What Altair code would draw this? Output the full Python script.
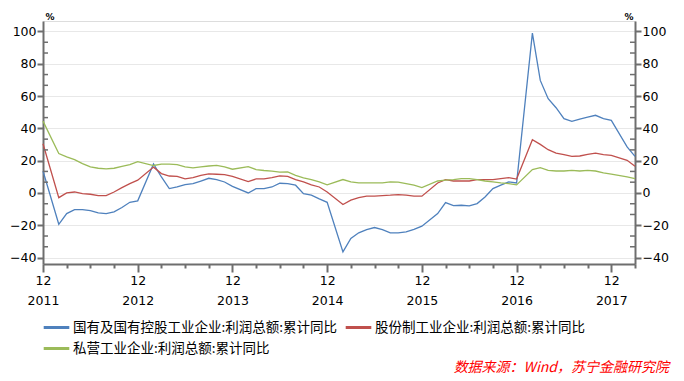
import altair as alt
import pandas as pd

months = [
    "2011-12",
    "2012-02", "2012-03", "2012-04", "2012-05", "2012-06", "2012-07", "2012-08", "2012-09", "2012-10", "2012-11", "2012-12",
    "2013-02", "2013-03", "2013-04", "2013-05", "2013-06", "2013-07", "2013-08", "2013-09", "2013-10", "2013-11", "2013-12",
    "2014-02", "2014-03", "2014-04", "2014-05", "2014-06", "2014-07", "2014-08", "2014-09", "2014-10", "2014-11", "2014-12",
    "2015-02", "2015-03", "2015-04", "2015-05", "2015-06", "2015-07", "2015-08", "2015-09", "2015-10", "2015-11", "2015-12",
    "2016-02", "2016-03", "2016-04", "2016-05", "2016-06", "2016-07", "2016-08", "2016-09", "2016-10", "2016-11", "2016-12",
    "2017-02", "2017-03", "2017-04", "2017-05", "2017-06", "2017-07", "2017-08", "2017-09", "2017-10", "2017-11", "2017-12",
    "2018-02", "2018-03",
]

soe = [
    13.6,
    -19.4, -12.8, -10.3, -10.3, -10.9, -12.4, -12.8, -11.7, -9.0, -5.8, -4.9,
    18.0, 9.9, 2.7, 3.7, 5.2, 5.8, 7.4, 9.1, 8.3, 6.8, 4.1,
    0.0, 2.7, 2.7, 3.7, 6.0, 5.8, 4.8, -0.4, -1.4, -3.7, -5.8,
    -36.5, -28.2, -24.7, -22.7, -21.4, -22.7, -24.7, -24.7, -24.1, -22.6, -20.6,
    -12.8, -6.0, -7.8, -7.6, -8.0, -6.6, -2.5, 2.7, 4.8, 6.8, 6.2,
    99.0, 69.7, 58.4, 52.8, 46.0, 44.3, 45.8, 47.0, 48.1, 46.0, 45.0,
    28.5, 22.7,
]

joint_stock = [
    30.5,
    -2.9, 0.0, 0.6, -0.4, -0.8, -1.6, -1.6, 0.6, 3.3, 5.8, 7.9,
    16.0, 12.0, 10.5, 10.3, 8.7, 9.5, 10.9, 11.8, 11.6, 11.3, 10.3,
    7.0, 8.7, 8.7, 9.5, 10.6, 10.3, 8.3, 6.8, 5.0, 3.7, 0.6,
    -7.2, -4.5, -2.9, -2.0, -1.9, -1.6, -1.4, -1.0, -1.4, -2.0, -2.0,
    6.2, 8.3, 7.4, 7.4, 7.4, 8.3, 8.3, 8.3, 8.9, 9.5, 8.6,
    33.0, 30.1, 26.8, 24.7, 23.7, 22.7, 22.9, 23.9, 24.7, 23.7, 23.3,
    20.2, 16.5,
]

private = [
    44.5,
    24.4, 22.3, 20.6, 18.2, 16.1, 15.3, 14.9, 15.3, 16.5, 17.5, 19.4,
    17.0, 17.8, 17.9, 17.6, 16.1, 15.5, 16.1, 16.7, 17.1, 16.1, 14.7,
    16.3, 14.5, 13.9, 13.5, 12.9, 13.0, 10.9, 9.3, 8.3, 6.8, 5.0,
    8.3, 6.8, 6.2, 6.2, 6.2, 6.2, 6.8, 6.7, 5.8, 4.8, 3.3,
    7.4, 7.9, 8.3, 8.9, 8.9, 8.3, 7.4, 6.8, 6.2, 5.8, 5.0,
    14.5, 15.7, 14.0, 13.6, 13.6, 14.0, 13.6, 14.0, 13.6, 12.4, 11.6,
    9.9, 8.9,
]

series_names = [
    "国有及国有控股工业企业:利润总额:累计同比",
    "股份制工业企业:利润总额:累计同比",
    "私营工业企业:利润总额:累计同比",
]
series_colors = ["#4f81bd", "#c0504d", "#9bbb59"]

y_major = [-40, -20, 0, 20, 40, 60, 80, 100]
y_minor = [-33.33, -26.67, -13.33, -6.67, 6.67, 13.33, 26.67, 33.33, 46.67, 53.33,
           66.67, 73.33, 86.67, 93.33]
x_ticks = list(range(0, 76, 3))
source_text = "数据来源：Wind，苏宁金融研究院"

# build long table
rows = []
for name, vals in zip(series_names, [soe, joint_stock, private]):
    for mth, v in zip(months, vals):
        yr, mo = int(mth[:4]), int(mth[5:])
        rows.append({"m": (yr - 2011) * 12 + mo - 12, "series": name, "value": v})
df = pd.DataFrame(rows)

W, H = 592, 243
AXC = "#6e6e6e"
FONT = "DejaVu Sans"
CJK = "Noto Sans CJK SC"
yscale = alt.Scale(domain=[-44, 106.5], nice=False, zero=False)

left_axis = alt.Axis(
    orient="left", values=y_major, title="%", titleAngle=0, titleX=2, titleY=0,
    titleAlign="left", titleBaseline="bottom", titleFontSize=9, titleFontWeight="bold",
    titleFont=FONT, titleColor="#000",
    grid=True, gridColor="#e8e8e8", gridWidth=1,
    domainColor=AXC, domainWidth=2, tickColor=AXC, tickWidth=2, tickSize=6,
    labelFont=FONT, labelFontSize=12.5, labelColor="#000", labelPadding=1,
)
right_axis = alt.Axis(
    orient="right", values=y_major, title="%", titleAngle=0, titleX=-2, titleY=0,
    titleAlign="right", titleBaseline="bottom", titleFontSize=9, titleFontWeight="bold",
    titleFont=FONT, titleColor="#000",
    grid=False,
    domainColor=AXC, domainWidth=2, tickColor=AXC, tickWidth=2, tickSize=6,
    labelFont=FONT, labelFontSize=12.5, labelColor="#000", labelPadding=1,
)
x_axis = alt.Axis(
    values=x_ticks, title=None, grid=False,
    labelExpr="datum.value % 12 === 0 ? ['12', '' + (2011 + datum.value / 12)] : ''",
    domainColor=AXC, domainWidth=2, tickColor=AXC, tickWidth=2,
    tickSize={"condition": {"test": "datum.value % 12 === 0", "value": 8}, "value": 4},
    labelFlush=False, labelOverlap=False, labelBound=False, labelPadding=2,
    labelLineHeight=20, labelFont=FONT, labelFontSize=12.5, labelColor="#000",
)

lines = alt.Chart(df).mark_line(strokeWidth=1.3).encode(
    x=alt.X("m:Q", scale=alt.Scale(domain=[0, 75], nice=False, zero=False), axis=x_axis),
    y=alt.Y("value:Q", scale=yscale, axis=left_axis),
    color=alt.Color(
        "series:N",
        scale=alt.Scale(domain=series_names, range=series_colors),
        legend=alt.Legend(
            title=None, orient="none", legendX=4, legendY=297, columns=2,
            direction="horizontal",
            symbolType="M-1.6,0H1.6", symbolSize=256, symbolStrokeWidth=3,
            labelFont=CJK, labelFontSize=13.5, labelColor="#000", labelLimit=600,
            labelOffset=7, columnPadding=1, rowPadding=5,
        ),
    ),
)

minor_df = pd.DataFrame({"v": y_minor})
minor_left = alt.Chart(minor_df).mark_rule(color=AXC, strokeWidth=1.5).encode(
    y=alt.Y("v:Q", scale=yscale, axis=right_axis),
    x=alt.value(0), x2=alt.value(5),
)
minor_right = alt.Chart(minor_df).mark_rule(color=AXC, strokeWidth=1.5).encode(
    y=alt.Y("v:Q", scale=yscale, axis=None),
    x=alt.value(W - 5), x2=alt.value(W),
)

src = alt.Chart(pd.DataFrame({"t": [source_text]})).mark_text(
    align="right", baseline="middle", fontStyle="italic", fontSize=14,
    color="#ff0000", font=CJK,
).encode(text="t:N", x=alt.value(626), y=alt.value(347))

chart = alt.layer(lines, minor_left, minor_right, src).resolve_scale(
    y="shared"
).resolve_axis(y="independent").properties(
    width=W, height=H,
    autosize=alt.AutoSizeParams(type="none"),
    padding={"left": 35, "top": 13, "right": 41, "bottom": 114},
).configure_view(stroke=None).configure(background="white")

chart.save("out.html", embed_options={"renderer": "svg", "actions": False})
